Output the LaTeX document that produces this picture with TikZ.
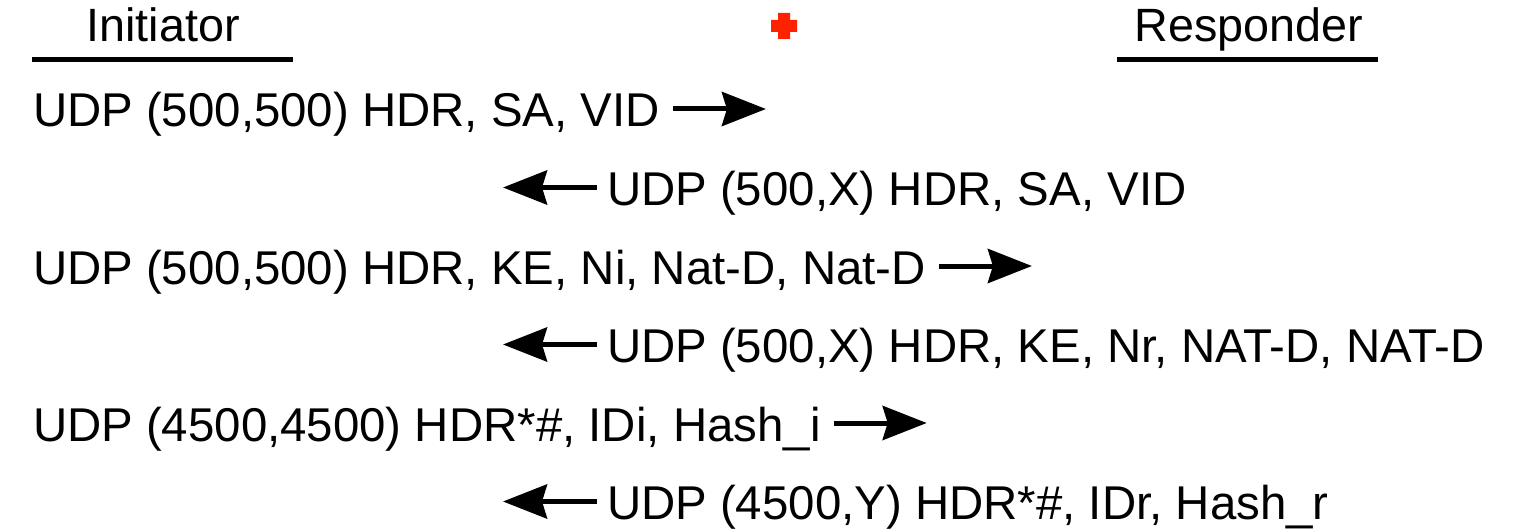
\documentclass[tikz,border=0pt]{standalone}
\usepackage{fontspec}
\setmainfont{Liberation Sans}
\usetikzlibrary{arrows.meta,calc}
\definecolor{crossred}{HTML}{FF2200}
\tikzset{
  lbl/.style={inner sep=0pt, outer sep=0pt, anchor=base west, font=\fontsize{47.4}{56}\selectfont},
  head/.style={inner sep=0pt, outer sep=0pt, anchor=base, font=\fontsize{46.7}{56}\selectfont},
  msg/.style={line width=5pt, -{Stealth[length=44pt,width=34pt,inset=5pt]}},
  uline/.style={line width=5pt}
}
\begin{document}
\begin{tikzpicture}[x=1pt,y=1pt]
\useasboundingbox (0,0) rectangle (1517,531);
% headers
\node[head] (ini) at (163,489) {Initiator};
\node[head] (res) at (1249,489) {Responder};
\draw[uline] (32,471) -- (293,471);
\draw[uline] (1117,471) -- (1378,471);
% red cross
\fill[crossred] (778,518) -- (790,518) -- (790,511) -- (797,511) -- (797,499) -- (790,499) -- (790,492) -- (778,492) -- (778,499) -- (771,499) -- (771,511) -- (778,511) -- cycle;
% messages
\node[lbl] (m1) at (33,404) {UDP (500,500) HDR, SA, VID};
\node[lbl] (m2) at (607,325.5) {UDP (500,X) HDR, SA, VID};
\node[lbl] (m3) at (33,247) {UDP (500,500) HDR, KE, Ni, Nat-D, Nat-D};
\node[lbl] (m4) at (607,168.5) {UDP (500,X) HDR, KE, Nr, NAT-D, NAT-D};
\node[lbl] (m5) at (33,90) {UDP (4500,4500) HDR*\#, IDi, Hash\_i};
\node[lbl] (m6) at (607,11.5) {UDP (4500,Y) HDR*\#, IDr, Hash\_r};
% arrow ends
\coordinate (t1) at ($(m1.base east)+(106,18)$);
\coordinate (t2) at ($(m2.base west)+(-104,18)$);
\coordinate (t3) at ($(m3.base east)+(106,18)$);
\coordinate (t4) at ($(m4.base west)+(-104,18)$);
\coordinate (t5) at ($(m5.base east)+(106,18)$);
\coordinate (t6) at ($(m6.base west)+(-104,18)$);
\draw[msg] ($(m1.base east)+(13,18)$) -- (t1);
\draw[msg] ($(m2.base west)+(-10,18)$) -- (t2);
\draw[msg] ($(m3.base east)+(13,18)$) -- (t3);
\draw[msg] ($(m4.base west)+(-10,18)$) -- (t4);
\draw[msg] ($(m5.base east)+(13,18)$) -- (t5);
\draw[msg] ($(m6.base west)+(-10,18)$) -- (t6);
\end{tikzpicture}
\end{document}
